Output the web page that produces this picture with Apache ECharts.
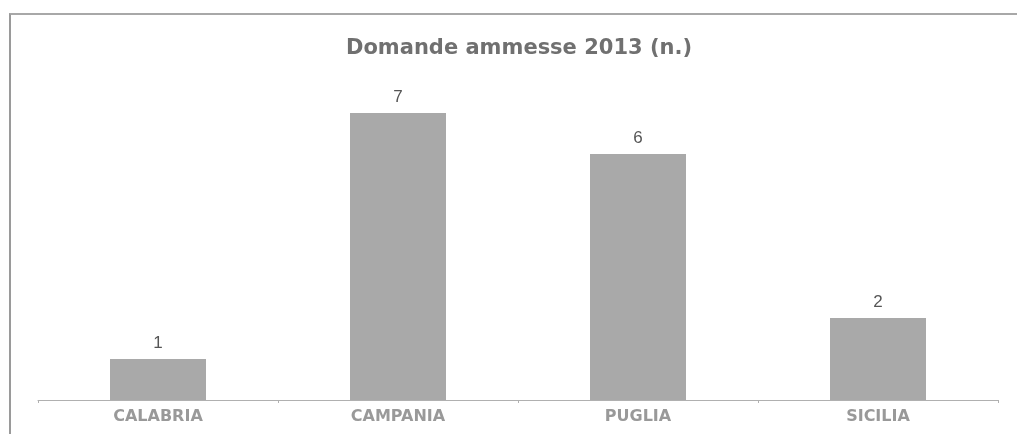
<!DOCTYPE html>
<html>
<head>
<meta charset="utf-8">
<script src="https://cdn.jsdelivr.net/npm/echarts@6/dist/echarts.min.js"></script>
<style>
html, body { margin: 0; padding: 0; background: #fff; }
#frame { position: absolute; left: 9px; top: 13px; width: 1020px; height: 440px;
  border-left: 2px solid #9a9a9a; border-top: 2px solid #a8a8a8; box-sizing: border-box; }
#chart { position: absolute; left: 0; top: 0; width: 1017px; height: 434px; }
</style>
</head>
<body>
<div id="frame"></div>
<div id="chart"></div>
<script>
// Domande ammesse per regione
var regions = ['CALABRIA', 'CAMPANIA', 'PUGLIA', 'SICILIA'];
var ammesse = [1, 7, 6, 2];

var chart = echarts.init(document.getElementById('chart'));

var option = {
    animation: false,
    title: {
        text: 'Domande ammesse 2013 (n.)',
        left: 341,
        top: 33,
        textStyle: {
            fontFamily: 'DejaVu Sans',
            fontSize: 21,
            fontWeight: 'bold',
            color: '#707070'
        }
    },
    grid: { left: 38, right: 19, top: 72, bottom: 34 },
    xAxis: {
        type: 'category',
        data: regions,
        axisLine: { lineStyle: { color: '#b0b0b0', width: 1 } },
        axisTick: { show: true, length: 3, lineStyle: { color: '#b0b0b0' } },
        axisLabel: {
            margin: 9,
            fontFamily: 'DejaVu Sans',
            fontSize: 16,
            fontWeight: 'bold',
            color: '#999'
        }
    },
    yAxis: {
        type: 'value',
        min: 0,
        max: 8,
        show: false,
        splitLine: { show: false }
    },
    series: [{
        type: 'bar',
        data: ammesse,
        barWidth: '40%',
        itemStyle: { color: '#a9a9a9' },
        label: {
            show: true,
            position: 'top',
            distance: 7,
            fontFamily: 'Liberation Sans',
            fontSize: 17,
            color: '#555'
        }
    }]
};

chart.setOption(option);
</script>
</body>
</html>
